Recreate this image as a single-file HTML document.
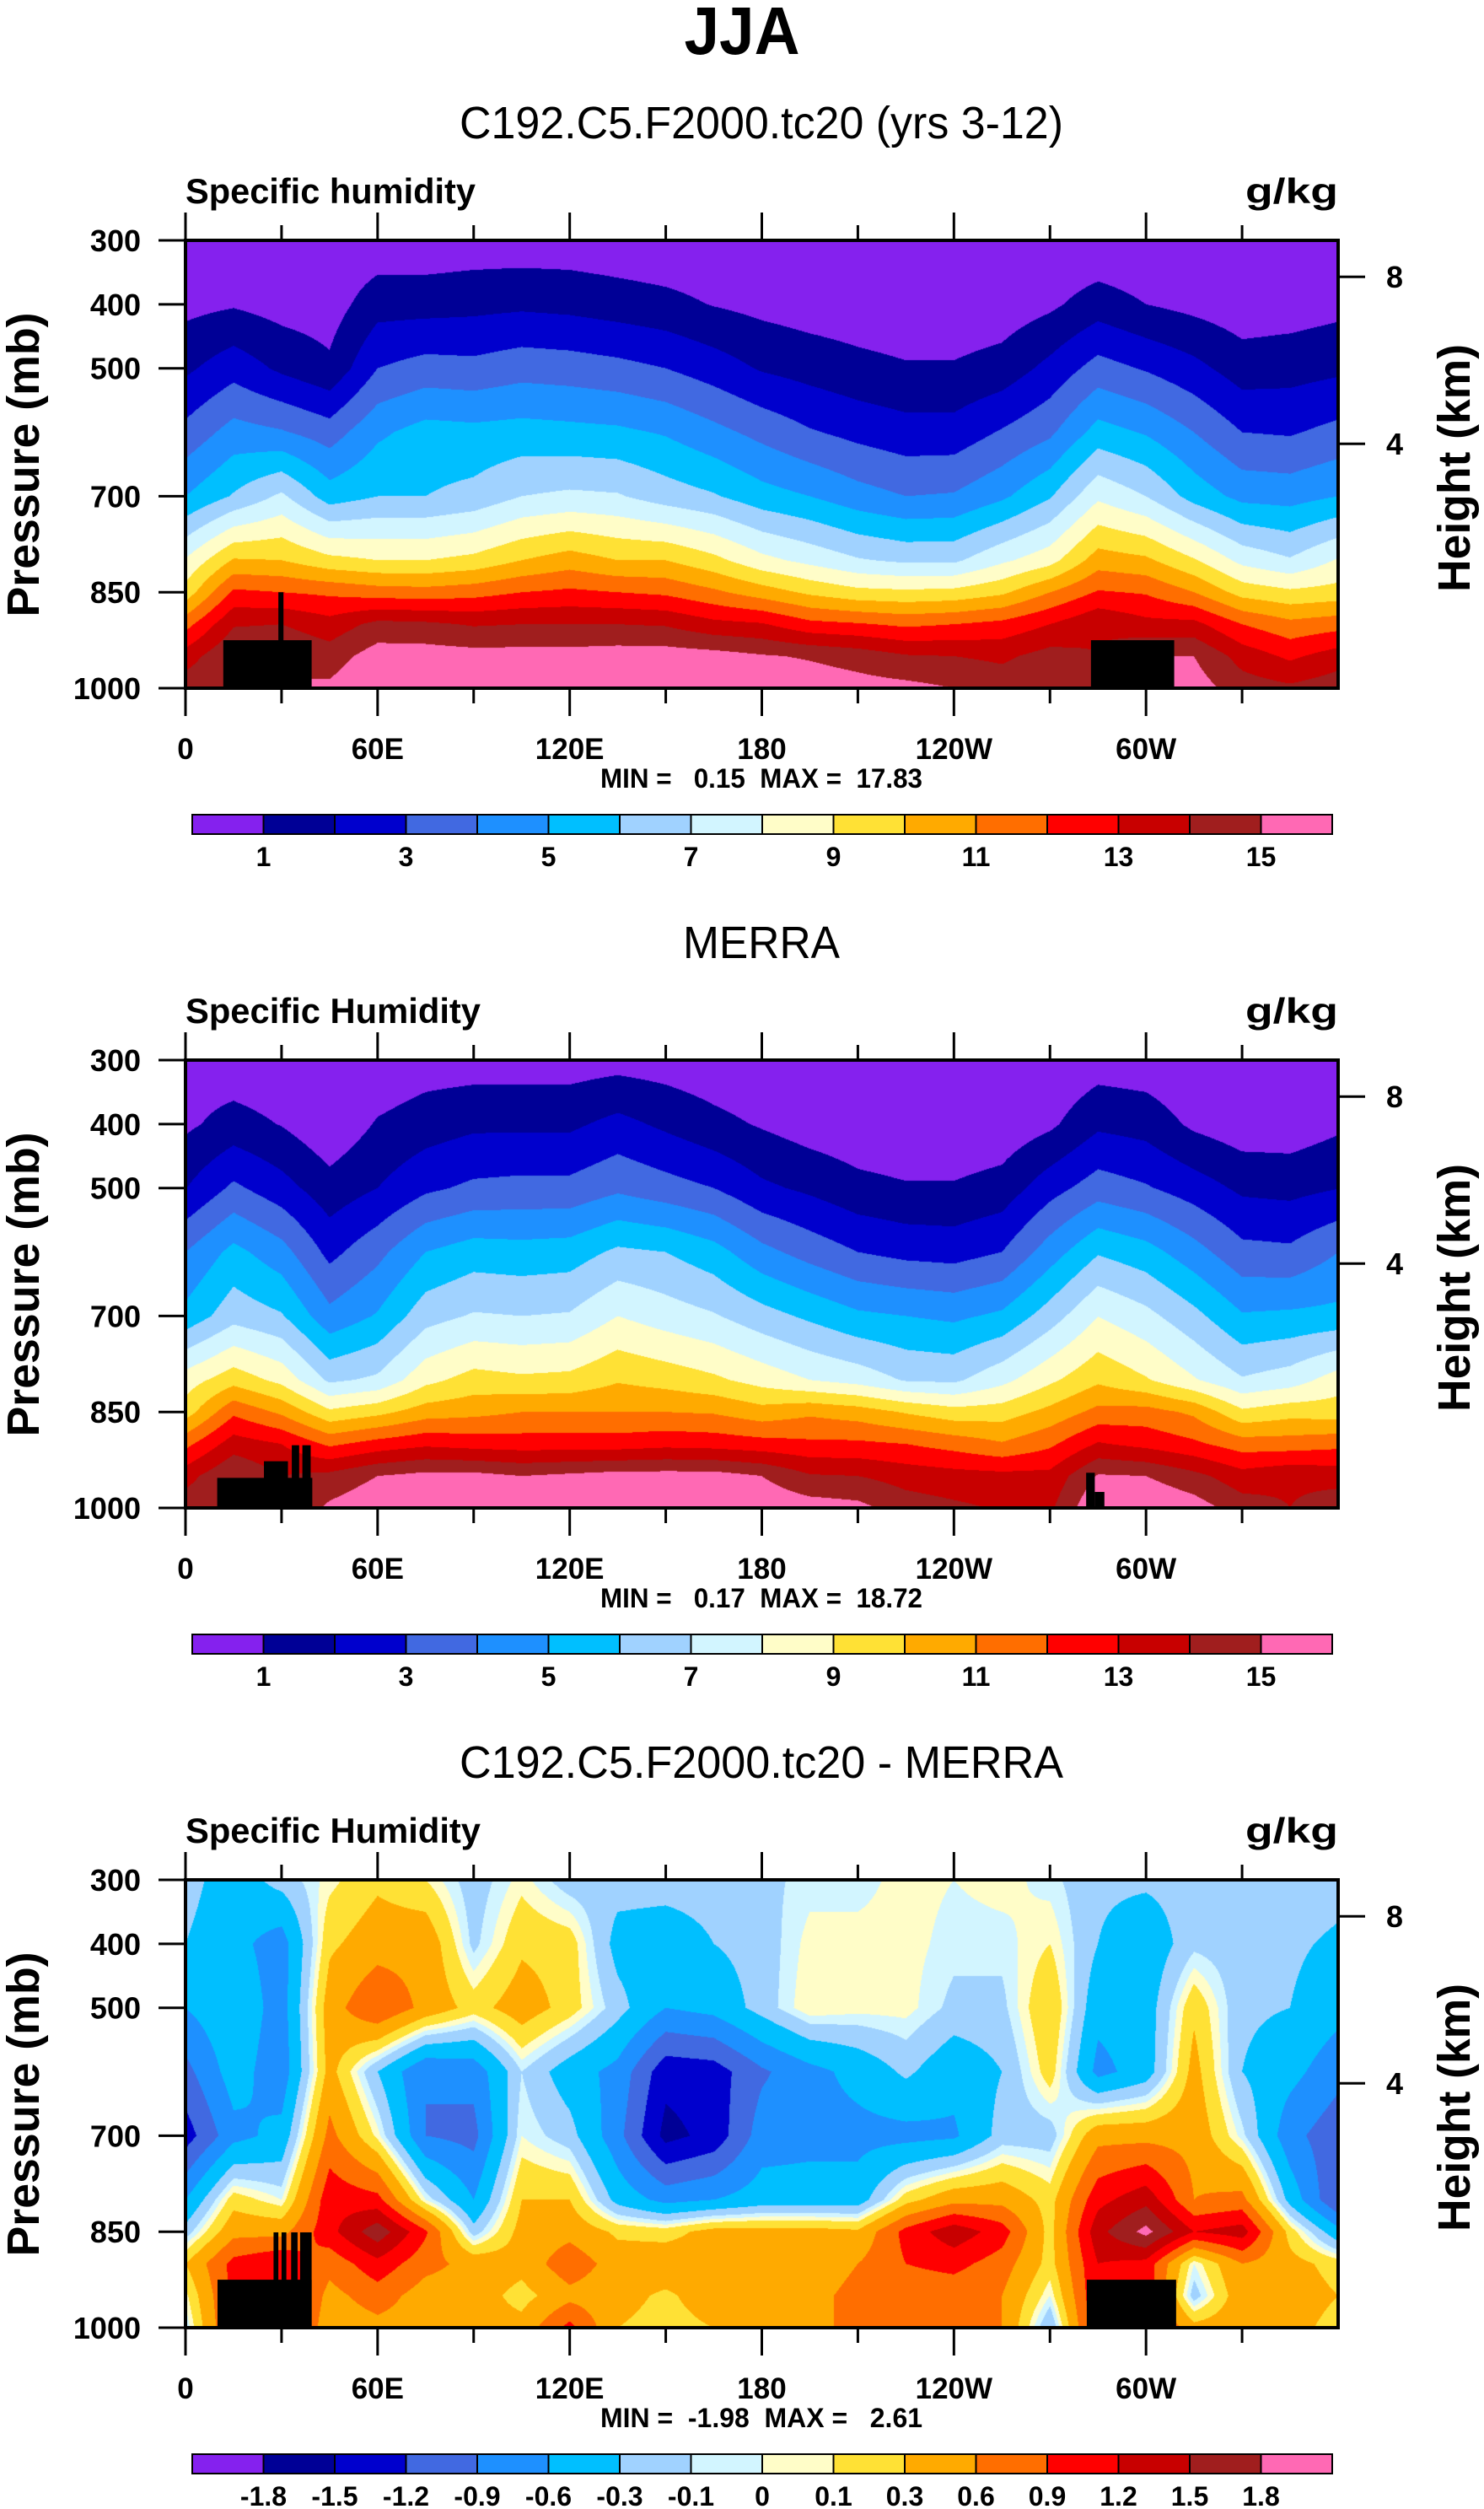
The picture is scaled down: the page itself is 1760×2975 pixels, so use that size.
<!DOCTYPE html>
<html><head><meta charset="utf-8">
<style>
html,body{margin:0;padding:0;background:#fff;}
#root{position:relative;width:1760px;height:2975px;overflow:hidden;background:#fff;font-family:"Liberation Sans",Arial,sans-serif;}
canvas{position:absolute;}
svg{position:absolute;left:0;top:0;}
text{font-family:"Liberation Sans",Arial,sans-serif;white-space:pre;}
</style></head>
<body>
<div id="root">
<canvas id="f0" width="1367" height="531" style="left:220px;top:285px"></canvas>
<canvas id="f1" width="1367" height="531" style="left:220px;top:1257px"></canvas>
<canvas id="f2" width="1367" height="531" style="left:220px;top:2229px"></canvas>
<svg id="ov" width="1760" height="2975" xmlns="http://www.w3.org/2000/svg"></svg>
</div>
<script>
// ---- data ----
const lons = [0,15,30,45,60,75,90,105,120,135,150,165,180,195,210,225,240,255,270,285,300,315,330,345,360];
const pressures = [300,400,500,600,700,800,850,900,950,1000];
const modelQ = [
[0.5,0.7,1.8,3.3,5.0,8.1,9.4,11.6,13.5,14.6],
[0.3,0.9,2.6,4.4,6.1,10.1,12.2,13.9,15,15],
[0.2,0.6,1.8,4.1,7.2,10,12,14,15,15],
[0.2,0.5,1.2,3.5,5.5,9.3,11.8,13.4,14.5,15.2],
[0.3,1.6,3.0,4.8,6.0,9.0,11.5,14.3,15.5,16],
[0.3,1.6,3.4,5.4,6.0,9.0,11.4,14.2,15.5,16],
[0.4,1.7,3.3,5.3,6.3,9.3,11.6,13.9,15.4,16],
[0.4,1.8,3.6,5.4,7.0,10,12,14,15.4,16],
[0.4,1.7,3.5,5.3,7.2,10.5,12.2,14,15.4,16],
[0.3,1.5,3.3,5.2,7.1,10,12,14,15.5,16],
[0.2,1.3,3.0,4.9,6.5,10,11.8,13.9,15.5,16],
[0.2,0.95,2.5,4.3,6.1,9.3,11.2,13.3,15.4,16],
[0.1,0.7,1.9,3.7,5.4,8.3,10.5,13.1,15.1,15.8],
[0.1,0.5,1.6,3.1,5.0,7.7,9.8,12.3,14.9,15.6],
[0.1,0.4,1.3,2.7,4.4,7.1,9.3,12.1,14.6,15.4],
[0.1,0.3,1.1,2.4,4.0,6.8,9.2,11.8,14.1,15.3],
[0.1,0.3,1.1,2.4,4.1,6.8,9.3,12,14,15],
[0.1,0.4,1.4,3.1,4.8,7.8,9.8,12.3,13.8,14.6],
[0.1,0.8,2.3,3.8,5.9,8.6,11,13.0,14.4,14.8],
[0.1,1.5,3.4,5.4,7.8,10.5,12.1,13.9,14,14],
[0.1,1.0,2.9,4.9,7.0,10.2,11.9,13.3,15,15],
[0.1,0.7,2.3,4.0,5.6,9.1,11.0,13.3,15,15.5],
[0.1,0.4,1.5,3.0,4.7,7.7,9.6,12,13.6,14.5],
[0.1,0.5,1.6,2.9,4.6,7.1,9.2,11.3,12.8,14.2],
[0.5,0.7,1.8,3.3,5.0,8.1,9.4,11.6,13.5,14.6]];
const merraQ = [
[0.5,0.8,1.97,4.0,5.3,8.5,9.5,11.7,13.6,14.6],
[0.3,1.4,3.2,5.3,6.6,9.6,11.8,13.5,15,15],
[0.2,0.95,2.4,4.4,6.1,8.7,10.8,13,14,14],
[0.1,0.2,1.4,2.7,4.3,6.8,9.2,11.8,14.3,15.2],
[0.2,1.1,2.0,3.7,5.1,7.2,9.7,12.4,15,15.8],
[0.5,1.5,2.8,5.0,6.6,8.7,10.5,12.8,15.3,16],
[0.5,1.8,3.2,5.5,7.1,9.4,10.7,12.6,15.3,16],
[0.5,1.8,3.3,5.4,7.0,9.2,11.0,12.5,15,16],
[0.5,1.8,3.3,5.5,7.1,9.3,11.0,12.5,15.2,16],
[0.6,2.3,3.8,6.2,8.0,9.9,11,12.5,15.4,16],
[0.5,1.8,3.4,6.0,7.5,9.6,11,12.7,15.4,16],
[0.3,1.3,3.0,5.4,7.1,9.2,10.9,12.6,15.4,16],
[0.1,0.9,2.2,4.3,6.4,8.6,10.4,12.4,15,15.8],
[0.1,0.5,1.8,3.6,5.8,8.0,10.8,12.2,14.1,15.5],
[0.1,0.3,1.3,3.0,5.2,7.6,10.5,12.2,14.0,15.3],
[0.1,0.2,1.1,2.7,5.0,6.9,9.9,12.0,13.6,14.5],
[0.1,0.2,1.1,2.6,4.8,6.8,9.4,11.6,13.4,14.2],
[0.1,0.3,1.4,3.0,5.2,7.7,9.5,11.1,13.3,13.9],
[0.1,0.8,2.6,4.5,6.5,8.8,10.3,11.8,13.3,13.8],
[0.5,1.8,3.5,5.9,7.98,9.8,11.3,13.1,15.1,16],
[0.4,1.6,3.1,5.4,7.3,9.1,11.4,12.7,15,16],
[0.1,0.8,2.5,4.4,6.3,8.1,10.8,12.2,14.3,15.5],
[0.1,0.4,1.8,3.3,5.1,7.1,9.2,11.5,13.4,14.5],
[0.1,0.4,1.7,3.2,5.2,7.5,9.6,11.5,13.8,14],
[0.5,0.8,1.97,4.0,5.3,8.5,9.5,11.7,13.6,14.6]];
const diffQ = [
[-0.2,-0.3,-0.6,-1.0,-1.35,-0.6,-0.2,0.3,0.05,-0.1],
[-0.45,-0.5,-0.35,-0.45,-0.7,0.2,0.5,1.0,1.0,1.0],
[-0.2,-0.75,-0.75,-0.8,-0.5,0.0,0.5,1.2,1.2,1.2],
[0.05,0.25,0.45,0.4,0.7,1.1,1.1,0.7,0.5,0.4],
[0.25,0.45,0.9,-0.3,0.05,1.0,1.7,1.1,0.75,0.5],
[0.1,0.5,0.5,-0.9,-0.9,0.0,0.95,0.7,0.45,0.45],
[-0.2,-0.15,0.2,-0.8,-1.0,-0.6,-0.2,0.5,0.45,0.4],
[0.05,0.25,0.45,-0.1,0.0,0.3,0.4,0.4,0.2,0.4],
[-0.2,0.2,0.2,-0.45,-0.2,0.3,0.5,0.8,0.5,1.0],
[-0.2,-0.4,-0.2,-0.7,-0.8,-0.4,0.25,0.45,0.4,0.3],
[-0.2,-0.45,-0.6,-1.4,-1.6,-0.7,0.2,0.5,0.25,0.2],
[-0.2,-0.3,-0.5,-1.35,-1.4,-0.6,0.4,0.45,0.45,0.3],
[-0.15,-0.2,-0.2,-0.95,-0.75,-0.45,0.4,0.45,0.45,0.4],
[-0.05,0.05,0.1,-0.7,-0.7,-0.45,0.4,0.4,0.5,0.5],
[-0.05,0.05,0.05,-0.5,-0.7,-0.45,0.35,0.6,0.7,0.7],
[0.05,0.05,0.05,-0.25,-0.7,0.2,1.0,0.9,0.7,0.7],
[0.0,-0.05,-0.15,-0.5,-0.65,0.5,1.4,1.0,0.7,0.7],
[0.05,-0.05,-0.15,-0.3,-0.2,0.5,1.05,0.75,0.6,0.6],
[-0.05,0.1,0.3,0.2,-0.2,0.2,0.2,0.2,0.0,-0.3],
[-0.25,-0.3,-0.5,-0.7,0.5,1.1,1.4,1.2,1.2,1.2],
[-0.25,-0.5,-0.45,-0.45,0.5,1.4,1.9,1.1,1.1,1.1],
[-0.2,-0.15,0.25,0.4,0.5,0.6,1.2,0.0,-0.2,0.4],
[-0.2,-0.2,-0.25,-0.3,-0.05,0.7,1.35,0.6,0.5,0.5],
[-0.15,-0.25,-0.3,-0.5,-0.8,-0.4,0.2,0.4,0.45,0.4],
[-0.2,-0.35,-0.5,-0.8,-1.1,-1.2,-0.5,0.2,0.3,0.2]];
const qLevels = [1,2,3,4,5,6,7,8,9,10,11,12,13,14,15];
const dLevels = [-1.8,-1.5,-1.2,-0.9,-0.6,-0.3,-0.1,0,0.1,0.3,0.6,0.9,1.2,1.5,1.8];
const qLabels = ['1','3','5','7','9','11','13','15'];
const dLabels = ['-1.8','-1.5','-1.2','-0.9','-0.6','-0.3','-0.1','0','0.1','0.3','0.6','0.9','1.2','1.5','1.8'];
const lonTickLabels = ['0','60E','120E','180','120W','60W'];
const pTickLabels = [300,400,500,700,850,1000];
const heightTicks = [8,4];
const heightTickP = [357,618];
const topo0 = [[11.8,39.4,925],[29.0,30.6,850]];
const topo1 = [[9.9,39.6,953],[24.5,32,927],[33.2,35.5,902],[36.5,39.1,902],[281.3,284,945],[284,287,975]];
const topo2 = [[10,39.4,925],[27.5,29,851],[30,31.5,851],[33,35,851],[35.8,39.4,851],[281.5,309.4,925]];
const topoA = [[282.8,308.8,925]];
const colors = ['#8521ee','#000096','#0000cd','#4169e1','#1e90ff','#00bfff','#a0d2ff','#d2f5ff','#fffdc8','#ffe135','#ffaa00','#ff6e00','#ff0000','#c80000','#a01e1e','#ff69b4'];

// ---- geometry ----
const X0=220, W=1367, Y0=285, H=531;
const offs=[0,972,1944];
function xOf(lon){return X0+lon/360*W;}
function yOf(p,off){return Y0+off+(p-300)/700*H;}

function hex(c){return [parseInt(c.substr(1,2),16),parseInt(c.substr(3,2),16),parseInt(c.substr(5,2),16)];}
const rgb=colors.map(hex);

function drawField(id,grid,levels){
  const cv=document.getElementById(id),ctx=cv.getContext('2d');
  const img=ctx.createImageData(W,H),d=img.data;
  const rowIdx=[],rowT=[];
  for(let y=0;y<H;y++){
    const p=300+(y+0.5)/H*700;
    let j=0;while(j<pressures.length-2&&p>pressures[j+1])j++;
    rowIdx.push(j);rowT.push((p-pressures[j])/(pressures[j+1]-pressures[j]));
  }
  for(let x=0;x<W;x++){
    const lon=(x+0.5)/W*360;
    let i=0;while(i<lons.length-2&&lon>lons[i+1])i++;
    const tx=(lon-lons[i])/(lons[i+1]-lons[i]);
    const a=grid[i],b=grid[i+1];
    for(let y=0;y<H;y++){
      const j=rowIdx[y],ty=rowT[y];
      const v0=a[j]+(a[j+1]-a[j])*ty, v1=b[j]+(b[j+1]-b[j])*ty;
      const v=v0+(v1-v0)*tx;
      let k=0;while(k<levels.length&&v>=levels[k])k++;
      const c=rgb[k],o=(y*W+x)*4;
      d[o]=c[0];d[o+1]=c[1];d[o+2]=c[2];d[o+3]=255;
    }
  }
  ctx.putImageData(img,0,0);
}
drawField('f0',modelQ,qLevels);
drawField('f1',merraQ,qLevels);
drawField('f2',diffQ,dLevels);

const NS='http://www.w3.org/2000/svg';
const ov=document.getElementById('ov');
function mk(tag,attrs,name,parent){
  const el=document.createElementNS(NS,tag);
  for(const k in attrs)el.setAttribute(k,attrs[k]);
  
  
  (parent||ov).appendChild(el);return el;
}
function txt(x,y,s,size,anchor,weight,name,extra){
  const a={x:x,y:y,'font-size':size,'text-anchor':anchor,'font-weight':weight,fill:'#000'};
  if(extra)for(const k in extra)a[k]=extra[k];
  const t=mk('text',a,name);t.textContent=s;return t;
}
const fit=(w)=>({textLength:w,lengthAdjust:'spacingAndGlyphs'});

txt(880,64,'JJA',80,'middle','bold','main-title',fit(137));
const titles=['C192.C5.F2000.tc20 (yrs 3-12)','MERRA','C192.C5.F2000.tc20 - MERRA'];
const titleW=[716,186,716];
const subL=['Specific humidity','Specific Humidity','Specific Humidity'];
const subW=[344,350,350];
const minmax=['MIN =   0.15  MAX =  17.83','MIN =   0.17  MAX =  18.72','MIN =  -1.98  MAX =   2.61'];
const topos=[topo0.concat(topoA),topo1,topo2];

for(let k=0;k<3;k++){
  const off=offs[k];
  txt(903,164+off,titles[k],54,'middle','normal','panel-title',fit(titleW[k]));
  txt(220,241+off,subL[k],42,'start','bold','variable-label',fit(subW[k]));
  txt(1587,241+off,'g/kg',42,'end','bold','units-label',fit(110));
  for(const t of topos[k]){
    mk('rect',{x:xOf(t[0]),y:yOf(t[2],off),width:xOf(t[1])-xOf(t[0]),height:yOf(1000,off)-yOf(t[2],off),fill:'#000'},'topography');
  }
  mk('rect',{x:X0,y:Y0+off,width:W,height:H,fill:'none',stroke:'#000','stroke-width':4},'plot-frame');
  for(let lon=0;lon<360;lon+=30){
    const major=lon%60===0, L=major?33:18, x=xOf(lon);
    mk('line',{x1:x,x2:x,y1:Y0+off,y2:Y0+off-L,stroke:'#000','stroke-width':3},'top-tick');
    mk('line',{x1:x,x2:x,y1:Y0+off+H,y2:Y0+off+H+L,stroke:'#000','stroke-width':3},'bottom-tick');
  }
  lonTickLabels.forEach((s,i)=>{txt(xOf(i*60),900+off,s,35,'middle','bold','x-tick-label');});
  pTickLabels.forEach(p=>{
    const y=yOf(p,off);
    mk('line',{x1:X0,x2:X0-32,y1:y,y2:y,stroke:'#000','stroke-width':3},'y-tick');
    txt(167,y+13,String(p),36,'end','bold','y-tick-label');
  });
  heightTicks.forEach((h,i)=>{
    const y=yOf(heightTickP[i],off);
    mk('line',{x1:X0+W,x2:X0+W+32,y1:y,y2:y,stroke:'#000','stroke-width':3},'right-tick');
    txt(1644,y+13,String(h),36,'start','bold','height-tick-label');
  });
  txt(0,0,'Pressure (mb)',54,'middle','bold','y-axis-title',{transform:'translate(46,'+(551+off)+') rotate(-90)',textLength:361,lengthAdjust:'spacingAndGlyphs'});
  txt(0,0,'Height (km)',54,'middle','bold','right-axis-title',{transform:'translate(1743,'+(555+off)+') rotate(-90)',textLength:294,lengthAdjust:'spacingAndGlyphs'});
  txt(903,934+off,minmax[k],32,'middle','bold','min-max-label',fit(382));
  const cbx=228,cbw=84.5,cby=966+off,cbh=23;
  for(let i=0;i<16;i++){
    mk('rect',{x:cbx+i*cbw,y:cby,width:cbw,height:cbh,fill:colors[i],stroke:'#000','stroke-width':2},'colorbar-box');
  }
  if(k<2){qLabels.forEach((s,i)=>{txt(cbx+(2*i+1)*cbw,1027+off,s,32,'middle','bold','colorbar-label');});}
  else{dLabels.forEach((s,i)=>{txt(cbx+(i+1)*cbw,1027+off,s,32,'middle','bold','colorbar-label');});}
}
</script>
</body></html>
